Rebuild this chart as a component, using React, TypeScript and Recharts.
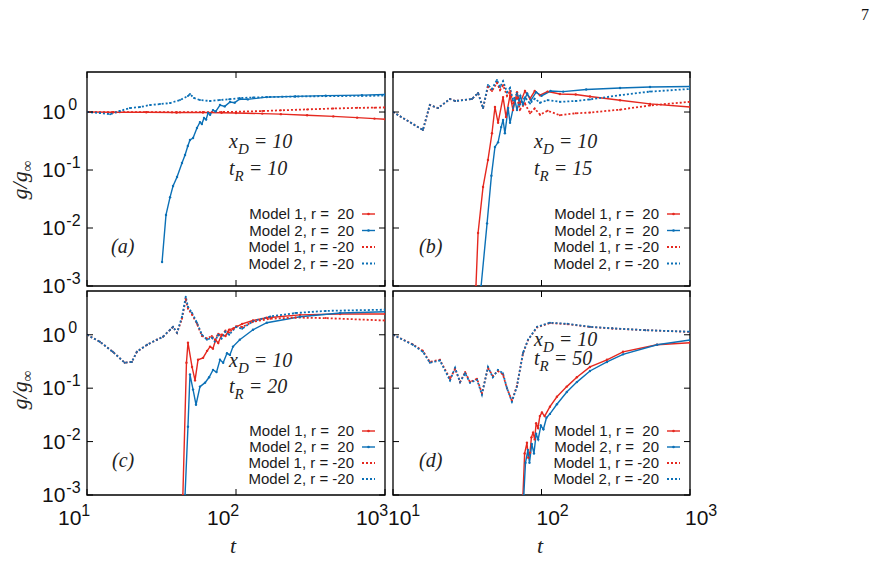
import React from 'react';
import { LineChart, Line, XAxis, YAxis, ReferenceArea } from 'recharts';

const RED = '#e5281f';
const BLUE = '#0b70b6';

type Pt = [number, number];

const X_TICKS = [10, 100, 1000];
const Y_TICKS = [0.001, 0.01, 0.1, 1];

// (a) x_D = 10, t_R = 10
const A_M1_POS: Pt[] = [[10, 1.0], [15, 0.99], [25, 0.99], [40, 0.98], [60, 0.98], [80, 0.97], [100, 0.96], [150, 0.94], [200, 0.92], [300, 0.88], [450, 0.84], [650, 0.8], [850, 0.77], [1000, 0.75]];
const A_M2_POS: Pt[] = [[31.9, 0.0026], [33.9, 0.0168], [36.1, 0.034], [37.8, 0.053], [40.2, 0.076], [43.4, 0.132], [45.5, 0.181], [47.5, 0.26], [49.1, 0.329], [51.5, 0.356], [54.7, 0.53], [57.3, 0.67], [59, 0.62], [61, 0.79], [63, 0.74], [64.9, 0.96], [67, 0.9], [70.1, 1.08], [73, 1.02], [78.1, 1.32], [84, 1.25], [91.2, 1.49], [98, 1.45], [106, 1.68], [120, 1.65], [161, 1.81], [250, 1.86], [400, 1.92], [700, 1.96], [1000, 2.0]];
const A_M1_NEG: Pt[] = [[10, 1.0], [15, 0.99], [25, 1.0], [40, 0.99], [60, 1.0], [80, 1.0], [100, 1.01], [150, 1.04], [200, 1.07], [300, 1.11], [450, 1.15], [650, 1.18], [850, 1.19], [1000, 1.2]];
const A_M2_NEG: Pt[] = [[10, 1.0], [12.2, 0.96], [14.3, 0.92], [16.6, 1.04], [19.4, 1.17], [22.7, 1.22], [26.5, 1.32], [30.9, 1.37], [36.1, 1.43], [42.1, 1.61], [47.6, 1.89], [49.1, 2.04], [52.3, 1.74], [57.3, 1.61], [66.9, 1.55], [78, 1.61], [90, 1.66], [106, 1.74], [130, 1.78], [169, 1.82], [250, 1.85], [400, 1.88], [700, 1.9], [1000, 1.92]];

// (b) x_D = 10, t_R = 15
const B_M1_POS: Pt[] = [[35, 0.0002], [36.2, 0.001], [37.4, 0.0082], [40.4, 0.051], [43.6, 0.149], [46.4, 0.43], [48.6, 1.22], [51, 0.65], [55.1, 1.81], [57.7, 0.82], [61.4, 1.96], [64.3, 1.08], [68.4, 2.2], [71.6, 1.4], [77.4, 2.3], [83.7, 1.7], [90, 2.3], [97.7, 1.95], [110, 2.25], [133, 2.05], [170, 2.0], [212, 1.85], [338, 1.6], [538, 1.38], [1000, 1.22]];
const B_M2_POS: Pt[] = [[37, 0.0002], [39.2, 0.001], [43, 0.012], [46, 0.08], [48.6, 0.25], [51, 0.3], [53.5, 0.55], [55.1, 0.73], [56.7, 0.43], [59.6, 1.17], [61.4, 0.65], [66.2, 1.6], [68.4, 1.08], [72, 1.9], [75, 1.35], [80, 2.1], [85, 1.6], [92, 2.2], [100, 1.9], [115, 2.3], [140, 2.25], [200, 2.45], [338, 2.6], [538, 2.7], [1000, 2.75]];
const B_M1_NEG: Pt[] = [[10, 1.0], [15.9, 0.49], [17.7, 1.32], [20.1, 1.17], [24.2, 1.68], [26.2, 1.55], [34, 1.68], [37.4, 2.13], [40.4, 1.17], [43.6, 2.7], [46.4, 2.3], [50.1, 3.2], [52.6, 2.4], [55.1, 2.9], [58.6, 1.9], [61.4, 2.3], [64.3, 1.4], [68.4, 1.8], [71.6, 1.1], [77.4, 1.4], [83.7, 0.95], [90, 1.15], [97.7, 0.9], [110, 1.05], [133, 0.88], [170, 0.95], [212, 0.98], [338, 1.1], [538, 1.3], [1000, 1.5]];
const B_M2_NEG: Pt[] = [[10, 1.0], [15.9, 0.49], [17.7, 1.32], [20.1, 1.17], [24.2, 1.68], [26.2, 1.55], [34, 1.68], [37.4, 2.13], [40.4, 1.17], [43.6, 2.92], [46.4, 2.5], [50.1, 3.56], [52.6, 2.7], [55.1, 3.4], [58.6, 2.2], [61.4, 2.6], [64.3, 1.6], [68.4, 2.1], [71.6, 1.35], [77.4, 1.8], [83.7, 1.4], [90, 1.7], [97.7, 1.45], [110, 1.6], [133, 1.5], [170, 1.55], [212, 1.65], [338, 1.95], [538, 2.25], [1000, 2.5]];

// (c) x_D = 10, t_R = 20
const C_M1_POS: Pt[] = [[42, 0.0002], [44, 0.001], [46.5, 0.3], [47.6, 0.71], [50.7, 0.25], [53.1, 0.14], [55.6, 0.34], [60.1, 0.37], [64, 0.5], [67, 0.6], [70, 0.55], [73, 0.8], [76, 0.7], [80, 1.0], [85, 0.95], [90, 1.25], [95.5, 1.3], [110, 1.6], [130, 1.85], [161, 2.08], [269, 2.36], [500, 2.45], [1000, 2.45]];
const C_M2_POS: Pt[] = [[43.5, 0.0002], [45.5, 0.001], [47.6, 0.019], [49.1, 0.18], [51.5, 0.094], [53.9, 0.049], [57.3, 0.107], [62, 0.127], [66, 0.16], [70.1, 0.22], [74, 0.2], [78.1, 0.34], [82, 0.3], [87, 0.45], [91, 0.42], [95.5, 0.6], [106, 0.81], [130, 1.24], [161, 1.68], [269, 2.17], [500, 2.55], [1000, 2.7]];
const C_M1_NEG: Pt[] = [[10, 1], [12.2, 0.74], [14.9, 0.48], [17.9, 0.3], [20, 0.31], [21.6, 0.48], [25.3, 0.65], [29.5, 0.81], [32.4, 0.92], [36.1, 1.24], [37.8, 1.41], [40.2, 1.09], [43.4, 2.0], [46, 4.6], [47.6, 3.1], [50.6, 2.4], [54.7, 1.6], [59.1, 0.95], [63.8, 0.85], [68.9, 0.95], [72, 0.8], [76, 1.05], [80, 0.95], [85, 1.2], [90, 1.1], [100, 1.45], [110, 1.4], [130, 1.75], [170, 2.0], [250, 2.1], [400, 2.05], [1000, 1.85]];
const C_M2_NEG: Pt[] = [[10, 1], [12.2, 0.74], [14.9, 0.48], [17.9, 0.3], [20, 0.31], [21.6, 0.48], [25.3, 0.65], [29.5, 0.81], [32.4, 0.92], [36.1, 1.24], [37.8, 1.41], [40.2, 1.09], [43.4, 2.17], [46, 5.13], [47.6, 3.34], [50.6, 2.58], [54.7, 1.68], [59.1, 1.0], [63.8, 0.81], [68.9, 0.88], [72, 0.75], [76, 1.0], [80, 0.85], [85, 1.15], [90, 1.0], [100, 1.4], [110, 1.3], [130, 1.8], [170, 2.2], [250, 2.55], [400, 2.8], [1000, 2.95]];

// (d) x_D = 10, t_R = 50
const D_M1_POS: Pt[] = [[73, 0.0002], [75, 0.001], [77, 0.006], [79.8, 0.0095], [81.5, 0.005], [83.7, 0.0062], [85.5, 0.012], [87.7, 0.0147], [90, 0.011], [92, 0.022], [94.7, 0.018], [97.5, 0.03], [100.7, 0.035], [105, 0.03], [114, 0.045], [127, 0.069], [148, 0.107], [173, 0.16], [212, 0.25], [276, 0.34], [354, 0.48], [600, 0.65], [1000, 0.71]];
const D_M2_POS: Pt[] = [[74, 0.0002], [76, 0.001], [78, 0.004], [81, 0.007], [83, 0.004], [86, 0.009], [89, 0.006], [92, 0.014], [95, 0.011], [99, 0.02], [103, 0.017], [108, 0.028], [114, 0.033], [127, 0.05], [148, 0.085], [173, 0.13], [212, 0.21], [276, 0.31], [354, 0.43], [600, 0.65], [1000, 0.8]];
const D_M1_NEG: Pt[] = [[10, 1], [13.6, 0.66], [15.9, 0.5], [17.7, 0.31], [20.7, 0.34], [24.2, 0.15], [26.2, 0.23], [28.3, 0.13], [30.6, 0.2], [33, 0.13], [36.8, 0.15], [39.7, 0.08], [43.6, 0.24], [47, 0.17], [50.9, 0.21], [55, 0.18], [58.5, 0.1], [63.2, 0.058], [68.3, 0.11], [75.1, 0.45], [81.2, 0.8], [93.4, 1.38], [114, 1.66], [150, 1.58], [212, 1.4], [300, 1.31], [500, 1.22], [1000, 1.13]];
const D_M2_NEG: Pt[] = [[10, 1], [13.6, 0.65], [15.9, 0.48], [17.7, 0.3], [20.7, 0.33], [24.2, 0.14], [26.2, 0.24], [28.3, 0.13], [30.6, 0.19], [33, 0.127], [36.8, 0.144], [39.7, 0.076], [43.6, 0.25], [47, 0.16], [50.9, 0.22], [55, 0.19], [58.5, 0.1], [63.2, 0.056], [68.3, 0.107], [75.1, 0.46], [81.2, 0.81], [93.4, 1.41], [114, 1.68], [150, 1.6], [212, 1.41], [300, 1.32], [500, 1.22], [1000, 1.14]];

const SERIES = [
  { name: 'Model 1, r =  20', color: RED, dash: undefined as string | undefined, solid: true },
  { name: 'Model 2, r =  20', color: BLUE, dash: undefined as string | undefined, solid: true },
  { name: 'Model 1, r = -20', color: RED, dash: '2 2', solid: false },
  { name: 'Model 2, r = -20', color: BLUE, dash: '2 2', solid: false },
];

type PanelDef = {
  tag: string;
  tR: number;
  left: number; right: number; top: number; bottom: number;
  ymax: number;
  yLabels: boolean;
  xLabelDx: number | null;
  data: Pt[][];
  legendY: number[];
  note: { x: number; y1: number; y2: number };
  tagPos: { x: number; y: number };
};

const PANELS: PanelDef[] = [
  {
    tag: '(a)', tR: 10, left: 87, right: 385, top: 72, bottom: 286, ymax: 4.9,
    yLabels: true, xLabelDx: null, data: [A_M1_POS, A_M2_POS, A_M1_NEG, A_M2_NEG],
    legendY: [214, 230.5, 247, 263.5], note: { x: 229, y1: 148, y2: 175 }, tagPos: { x: 111, y: 253 },
  },
  {
    tag: '(b)', tR: 15, left: 393, right: 690, top: 72, bottom: 286, ymax: 4.9,
    yLabels: false, xLabelDx: null, data: [B_M1_POS, B_M2_POS, B_M1_NEG, B_M2_NEG],
    legendY: [214, 230.5, 247, 263.5], note: { x: 534, y1: 148, y2: 175 }, tagPos: { x: 419, y: 253 },
  },
  {
    tag: '(c)', tR: 20, left: 87, right: 385, top: 291, bottom: 495, ymax: 6.6,
    yLabels: true, xLabelDx: -29, data: [C_M1_POS, C_M2_POS, C_M1_NEG, C_M2_NEG],
    legendY: [431, 447, 463, 479], note: { x: 229, y1: 367, y2: 393 }, tagPos: { x: 112, y: 467 },
  },
  {
    tag: '(d)', tR: 50, left: 393, right: 690, top: 291, bottom: 495, ymax: 6.6,
    yLabels: false, xLabelDx: -5, data: [D_M1_POS, D_M2_POS, D_M1_NEG, D_M2_NEG],
    legendY: [431, 447, 463, 479], note: { x: 534, y1: 346, y2: 365 }, tagPos: { x: 419, y: 467 },
  },
];

const SANS = '"Liberation Sans", Arial, sans-serif';
const SERIF = '"Liberation Serif", "Times New Roman", serif';
const AXW = 60;
const PADT = 10;
const PADR = 40;
const AXH = 45;
const TICK = 6;

const toRows = (pts: Pt[]) => pts.map(([t, g]) => ({ t, g }));
const exponent = (v: number) => Math.round(Math.log10(v));

const Panel = ({ p }: { p: PanelDef }) => {
  const w = p.right - p.left;
  const h = p.bottom - p.top;

  const xTick = (props: any) => {
    const { x, y, payload } = props;
    return (
      <g>
        <line x1={x} y1={y} x2={x} y2={y - TICK} stroke="#000" strokeWidth={1} />
        <line x1={x} y1={y - h} x2={x} y2={y - h + TICK} stroke="#000" strokeWidth={1} />
        {p.xLabelDx !== null && (
          <text x={x + p.xLabelDx} y={y + 30} fontFamily={SANS} fontSize={21} fill="#111">
            10<tspan dy={-9} fontSize={16}>{exponent(payload.value)}</tspan>
          </text>
        )}
      </g>
    );
  };

  const yTick = (props: any) => {
    const { x, y, payload } = props;
    return (
      <g>
        <line x1={x} y1={y} x2={x + TICK} y2={y} stroke="#000" strokeWidth={1} />
        <line x1={x + w - TICK} y1={y} x2={x + w} y2={y} stroke="#000" strokeWidth={1} />
        {p.yLabels && (
          <text x={x - 45} y={y + 7} fontFamily={SANS} fontSize={21} fill="#111">
            10<tspan dx={exponent(payload.value) === 0 ? 3 : 1} dy={-9} fontSize={16}>{exponent(payload.value)}</tspan>
          </text>
        )}
      </g>
    );
  };

  return (
    <div style={{ position: 'absolute', left: p.left - AXW, top: p.top - PADT }}>
      <LineChart
        width={AXW + w + PADR}
        height={PADT + h + AXH}
        margin={{ top: PADT, right: PADR, left: 0, bottom: 0 }}
      >
        <XAxis
          type="number"
          dataKey="t"
          scale="log"
          domain={[10, 1000]}
          ticks={X_TICKS}
          interval={0}
          allowDataOverflow
          height={AXH}
          axisLine={false}
          tickLine={false}
          tickSize={0}
          tickMargin={0}
          tick={xTick}
        />
        <YAxis
          type="number"
          dataKey="g"
          scale="log"
          domain={[0.001, p.ymax]}
          ticks={Y_TICKS}
          interval={0}
          allowDataOverflow
          width={AXW}
          axisLine={false}
          tickLine={false}
          tickSize={0}
          tickMargin={0}
          tick={yTick}
        />
        {SERIES.map((s, i) => (
          <Line
            key={s.name}
            data={toRows(p.data[i])}
            dataKey="g"
            type="linear"
            stroke={s.color}
            strokeWidth={s.solid ? 1.4 : 1.8}
            strokeDasharray={s.dash}
            dot={{ r: s.solid ? 1.2 : 1, fill: s.color, stroke: 'none' }}
            isAnimationActive={false}
          />
        ))}
        <ReferenceArea
          x1={10}
          x2={1000}
          y1={0.001}
          y2={p.ymax}
          fill="none"
          fillOpacity={0}
          stroke="#000"
          strokeWidth={1.3}
          strokeOpacity={1}
          ifOverflow="visible"
        />
      </LineChart>
    </div>
  );
};

// legend, parameter notes and axis titles, drawn on top of the four panels
const Overlay = () => (
  <svg width={877} height={561} style={{ position: 'absolute', left: 0, top: 0, pointerEvents: 'none' }}>
    <text x={861} y={20} fontFamily={SERIF} fontSize={16} fill="#111">7</text>

    {PANELS.map((p) => (
      <g key={p.tag}>
        {SERIES.map((s, i) => {
          const cy = p.legendY[i];
          const x0 = p.right - 23;
          const x1 = p.right - 10;
          return (
            <g key={s.name}>
              <text
                x={p.right - 31}
                y={cy + 5}
                textAnchor="end"
                fontFamily={SANS}
                fontSize={15}
                fill="#1a1a1a"
                style={{ whiteSpace: 'pre' }}
              >
                {s.name}
              </text>
              <line x1={x0} y1={cy} x2={x1} y2={cy} stroke={s.color} strokeWidth={s.solid ? 1.4 : 1.8} strokeDasharray={s.dash} />
              {s.solid && <circle cx={(x0 + x1) / 2} cy={cy} r={1.3} fill={s.color} />}
            </g>
          );
        })}
        <text x={p.note.x} y={p.note.y1} fontFamily={SERIF} fontStyle="italic" fontSize={20} fill="#222" style={{ whiteSpace: 'pre' }}>
          x<tspan dy={6} fontSize={15}>D</tspan><tspan dy={-6}> = 10</tspan>
        </text>
        <text x={p.note.x} y={p.note.y2} fontFamily={SERIF} fontStyle="italic" fontSize={20} fill="#222" style={{ whiteSpace: 'pre' }}>
          t<tspan dy={6} fontSize={15}>R</tspan><tspan dy={-6}>{` = ${p.tR}`}</tspan>
        </text>
        <text x={p.tagPos.x} y={p.tagPos.y} fontFamily={SERIF} fontStyle="italic" fontSize={20} fill="#222">
          {p.tag}
        </text>
      </g>
    ))}

    {[180, 390].map((cy) => (
      <text
        key={cy}
        transform={`translate(27, ${cy}) rotate(-90)`}
        textAnchor="middle"
        fontFamily={SERIF}
        fontStyle="italic"
        fontSize={22}
        fill="#222"
      >
        g/g<tspan dy={5} fontSize={15}>∞</tspan>
      </text>
    ))}
    <text x={233} y={553} textAnchor="middle" fontFamily={SERIF} fontStyle="italic" fontSize={22} fill="#222">t</text>
    <text x={540} y={553} textAnchor="middle" fontFamily={SERIF} fontStyle="italic" fontSize={22} fill="#222">t</text>
  </svg>
);

export default function App() {
  return (
    <div style={{ position: 'absolute', left: 0, top: 0, width: 877, height: 561, background: '#fff', overflow: 'hidden' }}>
      {PANELS.map((p) => (
        <Panel key={p.tag} p={p} />
      ))}
      <Overlay />
    </div>
  );
}
